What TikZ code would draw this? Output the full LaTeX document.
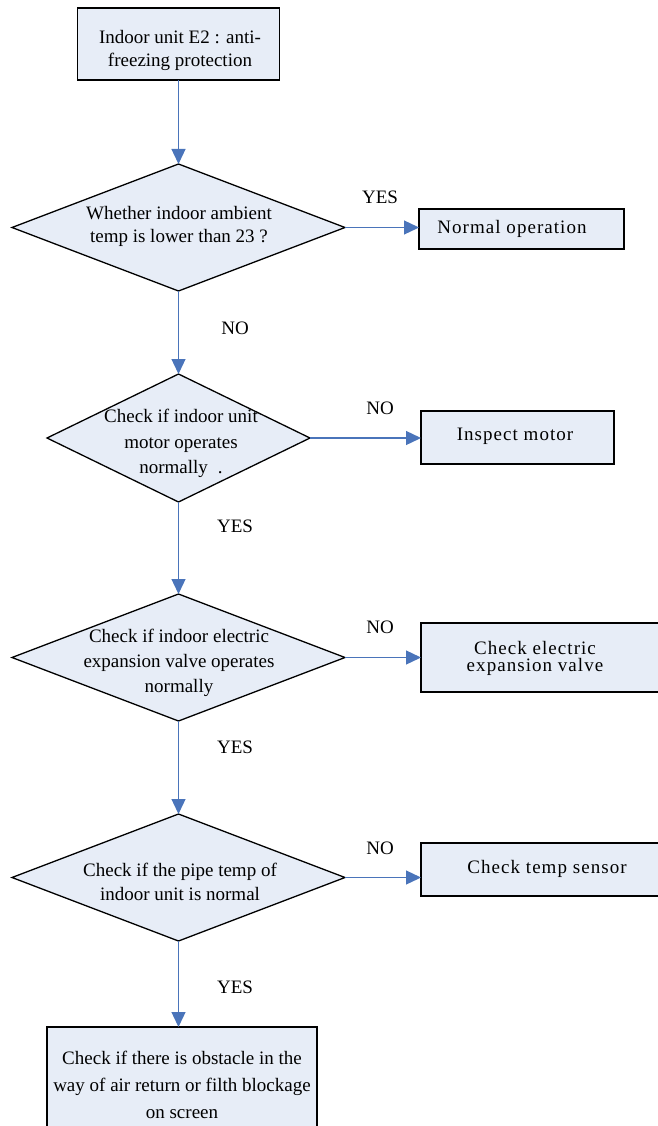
\documentclass[tikz,border=0pt]{standalone}
\usepackage{fontspec}
\setmainfont{Liberation Serif}
\usetikzlibrary{shapes.geometric,arrows.meta}
\definecolor{boxfill}{HTML}{E7EDF7}
\definecolor{flowblue}{HTML}{4A74BA}
\tikzset{
  every node/.style={font=\fontsize{19}{24}\selectfont},
  procbox/.style={draw=black, line width=1.3pt, fill=boxfill, rectangle, inner sep=0pt, outer sep=0pt},
  decision/.style={draw=black, line width=1.3pt, fill=boxfill, diamond, inner sep=0pt, outer sep=0pt},
  txt/.style={inner sep=0pt, align=center, font=\fontsize{19}{25}\selectfont},
  sidetxt/.style={inner sep=0pt, align=center, font=\fontsize{19}{17}\selectfont\addfontfeature{LetterSpace=5.5}},
  flow/.style={draw=flowblue, line width=1.3pt, -{Triangle[length=15pt,width=14pt]}},
  lbl/.style={inner sep=0pt, font=\fontsize{19}{24}\selectfont},
}
\begin{document}
\begin{tikzpicture}[x=1pt,y=-1pt]
\useasboundingbox (0,0) rectangle (657,1126);

% shapes
\node[procbox, minimum width=202pt, minimum height=72pt] (start) at (178.5,44) {};
\node[decision, aspect=2.622, minimum width=333pt, minimum height=127pt] (d1) at (178.5,227.5) {};
\node[procbox, minimum width=205pt, minimum height=40pt] (r1) at (521.5,229) {};
\node[decision, aspect=2.055, minimum width=263pt, minimum height=128pt] (d2) at (178.5,438) {};
\node[procbox, minimum width=193pt, minimum height=53pt] (r2) at (517.5,437.5) {};
\node[decision, aspect=2.622, minimum width=333pt, minimum height=127pt] (d3) at (178.5,657.5) {};
\node[procbox, minimum width=240pt, minimum height=69pt] (r3) at (541,657.5) {};
\node[decision, aspect=2.622, minimum width=333pt, minimum height=127pt] (d4) at (178.5,877.5) {};
\node[procbox, minimum width=240pt, minimum height=53pt] (r4) at (541,869.5) {};
\node[procbox, minimum width=270pt, minimum height=113pt] (end) at (182,1083.5) {};

% texts
\node[txt, font=\fontsize{19}{23}\selectfont] (tstart) at (180,50.5) {Indoor unit E2 : anti-\\freezing protection};
\node[txt, font=\fontsize{19}{23}\selectfont] (td1) at (179,226) {Whether indoor ambient\\temp is lower than 23 ?};
\node[sidetxt] (tr1) at (512,229) {Normal operation};
\node[txt, font=\fontsize{19}{25.5}\selectfont] (td2) at (181,443.5) {Check if indoor unit\\motor operates\\normally\hspace{10pt}.};
\node[sidetxt] (tr2) at (515,436) {Inspect motor};
\node[txt] (td3) at (179,663) {Check if indoor electric\\expansion valve operates\\normally};
\node[sidetxt] (tr3) at (535,658) {Check electric\\expansion valve};
\node[txt, font=\fontsize{19}{24}\selectfont] (td4) at (180,882) {Check if the pipe temp of\\indoor unit is normal};
\node[sidetxt] (tr4) at (547,869) {Check temp sensor};
\node[txt, font=\fontsize{19}{27}\selectfont] (tend) at (182,1085) {Check if there is obstacle in the\\way of air return or filth blockage\\on screen};

% connectors
\draw[flow] (start.south) -- (d1.north);
\draw[flow] (d1.east) -- (r1.west |- d1.east);
\draw[flow] (d1.south) -- (d2.north);
\draw[flow] (d2.east) -- (r2.west |- d2.east);
\draw[flow] (d2.south) -- (d3.north);
\draw[flow] (d3.east) -- (r3.west |- d3.east);
\draw[flow] (d3.south) -- (d4.north);
\draw[flow] (d4.east) -- (r4.west |- d4.east);
\draw[flow] (d4.south) -- (end.north -| d4.south);

% labels
\node[lbl] (y1) at (380,197) {YES};
\node[lbl] (n1) at (235,328) {NO};
\node[lbl] (n2) at (380,408) {NO};
\node[lbl] (y2) at (235,526) {YES};
\node[lbl] (n3) at (380,627) {NO};
\node[lbl] (y3) at (235,747) {YES};
\node[lbl] (n4) at (380,848) {NO};
\node[lbl] (y4) at (235,987) {YES};
\end{tikzpicture}
\end{document}
